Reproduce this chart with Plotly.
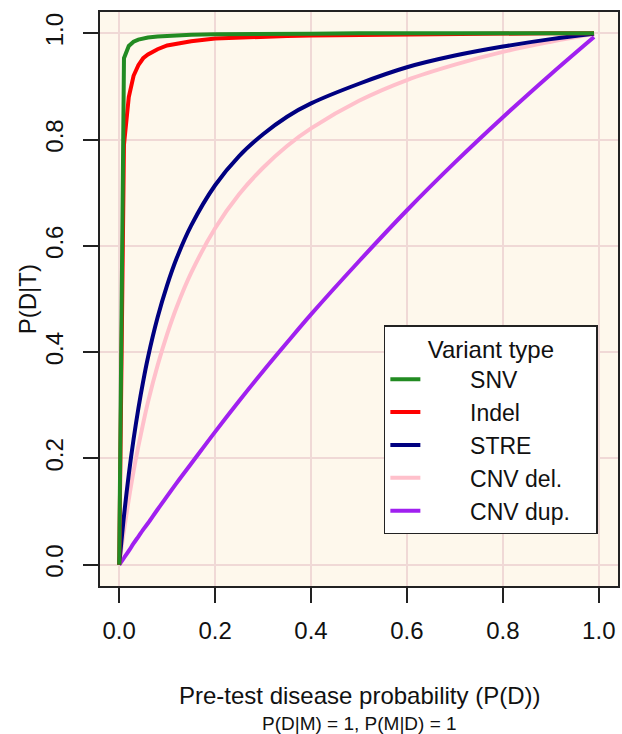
import plotly.graph_objects as go

# Pre-test disease probability (x) sampled points
pretest = [0, 0.01, 0.02, 0.03, 0.04, 0.05, 0.06, 0.08, 0.1, 0.12, 0.15, 0.2, 0.25,
           0.3, 0.35, 0.4, 0.5, 0.6, 0.7, 0.8, 0.9, 0.99]

# P(D|T) per variant type
snv = [0, 0.953, 0.976, 0.984, 0.988, 0.990, 0.992, 0.994, 0.995, 0.996, 0.997, 0.998,
       0.998, 0.999, 0.999, 0.999, 1.0, 1.0, 1.0, 1.0, 1.0, 1.0]
indel = [0, 0.79, 0.88, 0.92, 0.94, 0.953, 0.96, 0.970, 0.977, 0.980, 0.985, 0.990,
         0.992, 0.994, 0.995, 0.996, 0.997, 0.998, 0.999, 0.999, 1.0, 1.0]
stre = [0, 0.092, 0.17, 0.236, 0.294, 0.345, 0.390, 0.465, 0.526, 0.577, 0.638, 0.714,
        0.769, 0.81, 0.843, 0.868, 0.905, 0.936, 0.958, 0.975, 0.989, 0.999]
cnv_del = [0, 0.065, 0.123, 0.176, 0.223, 0.266, 0.306, 0.375, 0.434, 0.485, 0.549, 0.633,
           0.697, 0.747, 0.788, 0.821, 0.873, 0.912, 0.941, 0.965, 0.984, 0.999]
cnv_dup = [0, 0.013, 0.026, 0.040, 0.053, 0.066, 0.078, 0.104, 0.129, 0.154, 0.19, 0.25,
           0.308, 0.364, 0.418, 0.471, 0.571, 0.667, 0.757, 0.842, 0.923, 0.993]

series_names = ["SNV", "Indel", "STRE", "CNV del.", "CNV dup."]
series_values = [snv, indel, stre, cnv_del, cnv_dup]
series_colors = ["#228B22", "#FF0000", "#000080", "#FFC0CB", "#A020F0"]
series_shapes = ["linear", "linear", "spline", "spline", "spline"]

tick_vals = [0, 0.2, 0.4, 0.6, 0.8, 1.0]
tick_text = ["0.0", "0.2", "0.4", "0.6", "0.8", "1.0"]

FONT = "Liberation Sans, Arial, Helvetica, sans-serif"
PAD = "\u00a0"

fig = go.Figure()
# draw in reverse so SNV ends on top
for name, vals, col, shp in reversed(list(zip(series_names, series_values,
                                                series_colors, series_shapes))):
    fig.add_trace(go.Scatter(x=pretest, y=vals, mode="lines", name=PAD * 7 + name,
                             line=dict(color=col, width=4, shape=shp)))

axis_common = dict(
    range=[-0.04, 1.04], tickvals=tick_vals, ticktext=tick_text,
    showgrid=True, gridcolor="#F0D9D6", gridwidth=1.5, zeroline=False,
    showline=True, mirror=True, linecolor="#222222", linewidth=1.5,
    ticks="outside", ticklen=15, tickwidth=1.5, tickcolor="#222222",
    tickfont=dict(family=FONT, size=24, color="#111111"),
)

fig.update_layout(
    width=622, height=734,
    margin=dict(l=100, r=2, t=12, b=148),
    paper_bgcolor="white", plot_bgcolor="#FEF8EC",
    font=dict(family=FONT, size=24, color="#111111"),
    xaxis=dict(**axis_common, ticklabelstandoff=7),
    yaxis=dict(**axis_common, tickangle=-90, ticklabelstandoff=11),
    showlegend=True,
    legend=dict(
        x=0.548, y=0.4547, xanchor="left", yanchor="top",
        bgcolor="white", bordercolor="#222222", borderwidth=1.5,
        font=dict(family=FONT, size=23, color="#111111"),
        title=dict(text=PAD * 6 + "Variant type" + PAD * 6, side="top center",
                   font=dict(family=FONT, size=24, color="#111111")),
        traceorder="reversed",
    ),
    annotations=[
        dict(text="Pre-test disease probability (P(D))", xref="paper", yref="paper",
             x=0.5, y=-0.191, xanchor="center", yanchor="middle", showarrow=False,
             font=dict(family=FONT, size=24, color="#111111")),
        dict(text="P(D|M) = 1, P(M|D) = 1", xref="paper", yref="paper",
             x=0.5, y=-0.2387, xanchor="center", yanchor="middle", showarrow=False,
             font=dict(family=FONT, size=19, color="#111111")),
        dict(text="P(D|T)", xref="paper", yref="paper",
             x=-0.1404, y=0.5, xanchor="center", yanchor="middle", showarrow=False,
             textangle=-90, font=dict(family=FONT, size=24, color="#111111")),
    ],
)

fig.write_html("out.html", config={"displayModeBar": False},
               post_script="document.body.style.margin='0';")
